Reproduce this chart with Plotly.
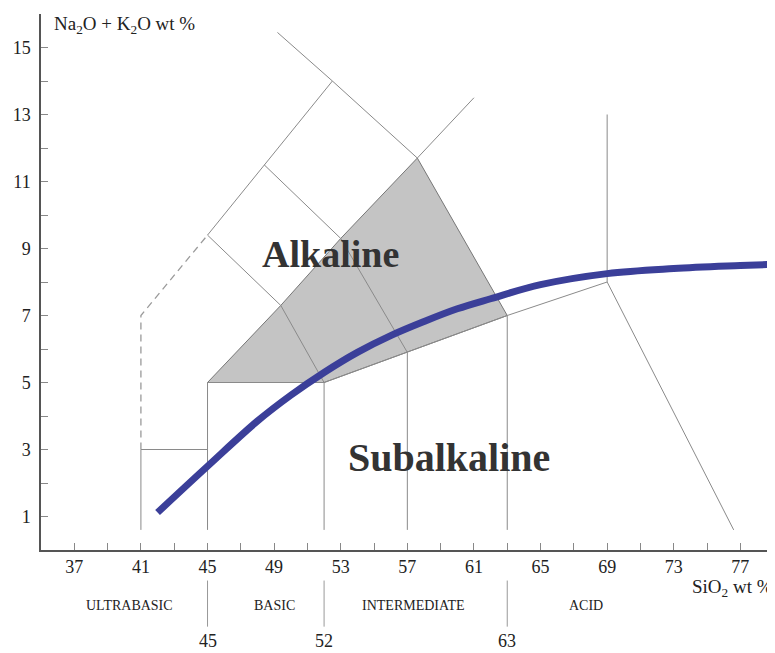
import plotly.graph_objects as go

# ---- data ----
sio2_tick_vals = [37, 41, 45, 49, 53, 57, 61, 65, 69, 73, 77]
alk_tick_vals = [1, 3, 5, 7, 9, 11, 13, 15]

# Alkaline / subalkaline dividing curve (SiO2, Na2O+K2O)
curve_sio2 = [42, 45, 48, 50, 52, 54, 56, 58, 60, 62, 65, 69, 73, 77, 79.1]
curve_alk = [1.12, 2.5, 3.85, 4.62, 5.3, 5.9, 6.4, 6.82, 7.2, 7.5, 7.92, 8.25, 8.4, 8.49, 8.53]

# shaded field
field_sio2 = [45, 49.4, 53, 57.6, 63, 57, 52, 45]
field_alk = [5, 7.3, 9.3, 11.7, 7, 5.9, 5, 5]

# solid field boundaries (None separates polylines)
solid_sio2 = [41, 41, 45, None,
              45, 45, 52, 57, 63, 69, 76.6, None,
              52, 52, None,
              57, 57, None,
              63, 63, None,
              69, 69, None,
              45, 49.4, 52, None,
              45, 48.4, 52.5, 49.2, None,
              48.4, 53, 57, None,
              52.5, 57.6, 61]
solid_alk = [0.6, 3, 3, None,
             0.6, 5, 5, 5.9, 7, 8, 0.6, None,
             0.6, 5, None,
             0.6, 5.9, None,
             0.6, 7, None,
             8, 13, None,
             9.4, 7.3, 5, None,
             9.4, 11.5, 14, 15.45, None,
             11.5, 9.3, 5.9, None,
             14, 11.7, 13.5]

# dashed boundary
dash_sio2 = [41, 41, 45]
dash_alk = [3, 7, 9.4]

# rock-class divisions under the axis
class_names = ["ULTRABASIC", "BASIC", "INTERMEDIATE", "ACID"]
class_centers = [40.3, 49.0, 57.4, 67.7]
class_limits = [45, 52, 63]

FONT = "Liberation Serif, Times New Roman, serif"
LINE_C = "#8a8a8a"

fig = go.Figure()

fig.add_trace(go.Scatter(x=field_sio2, y=field_alk, mode="lines", fill="toself",
                         fillcolor="#c4c4c4", line=dict(color="#777777", width=1),
                         hoverinfo="skip", showlegend=False))
fig.add_trace(go.Scatter(x=solid_sio2, y=solid_alk, mode="lines",
                         line=dict(color=LINE_C, width=1), connectgaps=False,
                         hoverinfo="skip", showlegend=False))
fig.add_trace(go.Scatter(x=dash_sio2, y=dash_alk, mode="lines",
                         line=dict(color="#9a9a9a", width=1.3, dash="7px,5px"),
                         hoverinfo="skip", showlegend=False))
fig.add_trace(go.Scatter(x=curve_sio2, y=curve_alk, mode="lines",
                         line=dict(color="#3b3f99", width=7, shape="spline", smoothing=1.0),
                         hoverinfo="skip", showlegend=False))

# labels in plot
fig.add_annotation(x=52.4, y=8.85, text="<b>Alkaline</b>", showarrow=False,
                   font=dict(family=FONT, size=38, color="#333333"))
fig.add_annotation(x=59.5, y=2.75, text="<b>Subalkaline</b>", showarrow=False,
                   font=dict(family=FONT, size=40, color="#333333"))

# axis titles
fig.add_annotation(xref="paper", yref="paper", x=0.015, y=0.98, xanchor="left",
                   yanchor="middle", text="Na<sub>2</sub>O + K<sub>2</sub>O wt %",
                   showarrow=False, font=dict(family=FONT, size=19, color="#222222"))
fig.add_annotation(xref="paper", yref="paper", x=1.0, y=-0.07, xanchor="right",
                   yanchor="middle", text="SiO<sub>2</sub> wt %",
                   showarrow=False, font=dict(family=FONT, size=19, color="#222222"))

for name, cx in zip(class_names, class_centers):
    fig.add_annotation(xref="x", yref="paper", x=cx, y=-0.104, text=name,
                       showarrow=False, yanchor="middle",
                       font=dict(family=FONT, size=14, color="#222222"))
for lim in class_limits:
    fig.add_shape(type="line", xref="x", yref="paper", x0=lim, x1=lim,
                  y0=-0.057, y1=-0.143, line=dict(color="#999999", width=1))
    fig.add_annotation(xref="x", yref="paper", x=lim, y=-0.17, text=str(lim),
                       showarrow=False, yanchor="middle",
                       font=dict(family=FONT, size=18, color="#222222"))

fig.update_xaxes(range=[35, 79.08], showgrid=False, zeroline=False, automargin=False,
                 showline=True, linecolor="#555555", linewidth=1.5,
                 tickmode="array", tickvals=sio2_tick_vals,
                 ticks="inside", ticklen=7, tickcolor="#888888", tickwidth=1,
                 minor=dict(dtick=2, tick0=35, ticks="inside", ticklen=7,
                            tickcolor="#888888", tickwidth=1),
                 tickfont=dict(family=FONT, size=18, color="#222222"),
                 ticklabelstandoff=0)
fig.update_yaxes(range=[0, 16], showgrid=False, zeroline=False, automargin=False,
                 showline=True, linecolor="#555555", linewidth=1.5,
                 tickmode="array", tickvals=alk_tick_vals,
                 ticks="inside", ticklen=7, tickcolor="#888888", tickwidth=1,
                 minor=dict(dtick=1, tick0=0, ticks="inside", ticklen=7,
                            tickcolor="#888888", tickwidth=1),
                 tickfont=dict(family=FONT, size=18, color="#222222"),
                 ticklabelstandoff=5)

# page body has an 8px margin: figure sized so it fills the 775x653 window exactly
fig.update_layout(width=767, height=645, margin=dict(l=33, r=0, t=6, b=103),
                  plot_bgcolor="white", paper_bgcolor="white", showlegend=False)

fig.write_html("out.html")
